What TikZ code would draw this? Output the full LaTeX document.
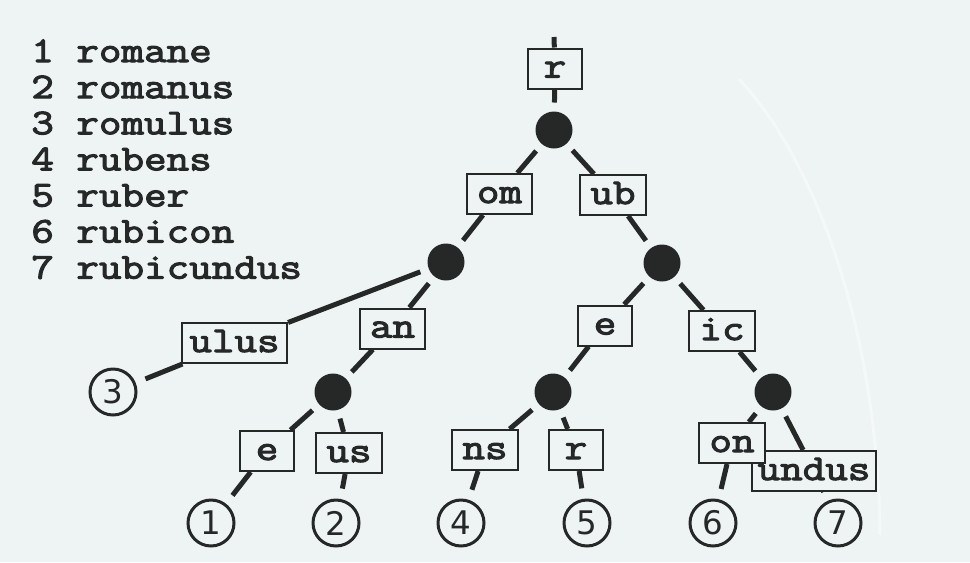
\documentclass[tikz,border=0pt]{standalone}
\usepackage{fontspec}
\usepackage{xcolor}
\usepackage{tikz}
\usetikzlibrary{positioning,calc}

\newfontfamily\labfam{Latin Modern Mono}[FakeBold=3, FakeStretch=1.21]
\newfontfamily\numfam{DejaVu Sans}
\newcommand{\labfont}{\labfam\fontsize{20.6}{20.5}\selectfont}
\newcommand{\leaffont}{\numfam\fontsize{18.5}{18.5}\selectfont}

\definecolor{bg}{RGB}{238,243,243}
\definecolor{ink}{RGB}{38,40,40}

\tikzset{
  dot/.style={circle, fill=ink, minimum size=0.74cm, inner sep=0pt, outer sep=0.18cm},
  leaf/.style={circle, draw=ink, line width=0.06cm, minimum size=0.92cm, inner sep=0pt, outer sep=0.24cm, text=ink, font=\leaffont},
  lab/.style={draw=ink, fill=bg, line width=0.04cm, minimum height=0.8cm, minimum width=1.08cm,
    inner xsep=0.2cm, inner ysep=0pt, text height=0.44cm, text depth=0.08cm, text=ink, font=\labfont},
  ln/.style={draw=ink, line width=0.1cm},
  word/.style={anchor=base west, inner sep=0pt, text=ink, font=\labfont}
}

\begin{document}
\begin{tikzpicture}[x=0.02cm, y=-0.02cm]
\fill[bg] (0,0) rectangle (970,562);
\useasboundingbox (0,0) rectangle (970,562);
\draw[white, line width=0.06cm, opacity=0.45] (739,79) .. controls (815,160) and (878,330) .. (880,535);

% word list
\foreach \i/\w in {1/romane, 2/romanus, 3/romulus, 4/rubens, 5/ruber, 6/rubicon, 7/rubicundus}
  \node[word] (w\i) at (31,{62+36.1*(\i-1)}) {\i\ \w};

% inner nodes
\coordinate (top) at (554,37);
\node[dot] (d0) at (554,130) {};
\node[dot] (d1) at (446,262) {};
\node[dot] (d2) at (662,263) {};
\node[dot] (d3) at (333,392) {};
\node[dot] (d4) at (553,392) {};
\node[dot] (d5) at (773,392) {};

% leaves
\node[leaf] (l1) at (211,523) {1};
\node[leaf] (l2) at (336,523) {2};
\node[leaf] (l3) at (113,392) {3};
\node[leaf] (l4) at (461,523) {4};
\node[leaf] (l5) at (587,523) {5};
\node[leaf] (l6) at (713,523) {6};
\node[leaf] (l7) at (838,523) {7};

% edge labels
\node[lab] (r) at (555,68.5) {r};
\node[lab] (om) at (499.5,194) {om};
\node[lab] (ub) at (613,195) {ub};
\node[lab, inner xsep=0.15cm] (ulus) at (234.5,343) {ulus};
\node[lab] (an) at (392.5,328.5) {an};
\node[lab] (e1) at (605,325.5) {e};
\node[lab] (ic) at (722,331) {ic};
\node[lab] (e0) at (267,451) {e};
\node[lab] (us) at (349,453) {us};
\node[lab] (ns) at (485,450) {ns};
\node[lab] (r2) at (576,450) {r};
\node[lab, inner xsep=0.12cm] (undus) at (814,471) {undus};
\node[lab] (on) at (732,443) {on};

% connectors
\draw[ln] (top) -- (r);
\draw[ln] (r) -- (d0);
\draw[ln] (d0) -- (om);
\draw[ln] (om) -- (d1);
\draw[ln] (d0) -- (ub);
\draw[ln] (ub) -- (d2);
\draw[ln] (d1) -- (ulus);
\draw[ln] (ulus) -- (l3);
\draw[ln] (d1) -- (an);
\draw[ln] (an) -- (d3);
\draw[ln] (d3) -- (e0);
\draw[ln] (e0) -- (l1);
\draw[ln] (d3) -- (us);
\draw[ln] (us) -- (l2);
\draw[ln] (d2) -- (e1);
\draw[ln] (e1) -- (d4);
\draw[ln] (d4) -- (ns);
\draw[ln] (ns) -- (l4);
\draw[ln] (d4) -- (r2);
\draw[ln] (r2) -- (l5);
\draw[ln] (d2) -- (ic);
\draw[ln] (ic) -- (d5);
\draw[ln] (d5) -- (on);
\draw[ln] (on) -- (l6);
\draw[ln] (d5) -- (undus);
\draw[ln] (undus) -- (l7);
\end{tikzpicture}
\end{document}
